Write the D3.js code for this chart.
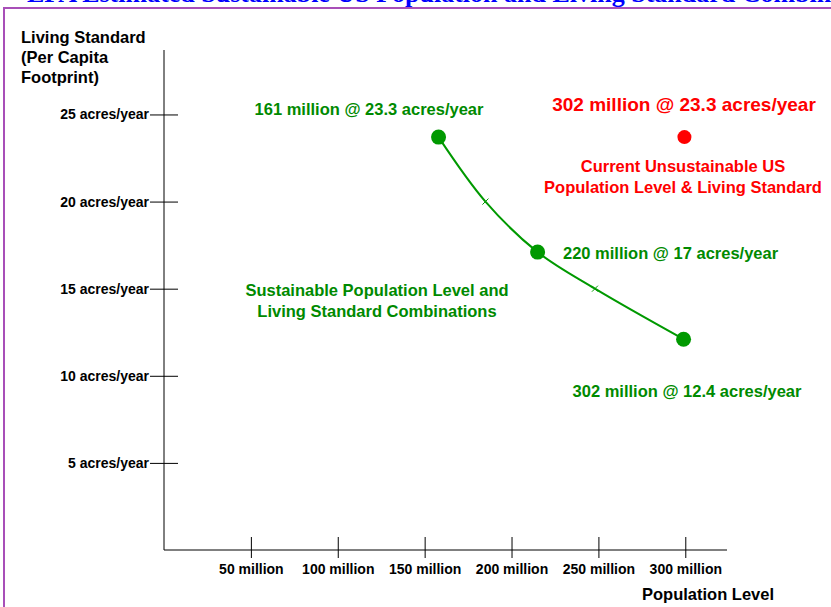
<!DOCTYPE html>
<html>
<head>
<meta charset="utf-8">
<script src="https://cdn.jsdelivr.net/npm/d3@7"></script>
<style>
  body { margin: 0; background: #fff; }
  text { font-family: "Liberation Sans", Arial, sans-serif; }
</style>
</head>
<body>
<svg></svg>
<script>
//chart size
const width = 831;
const height = 607;

//data (population in millions, living standard in acres/year)
const popLevels = [158, 185, 215, 248, 299];
const livingStd = [23.7, 20, 17.1, 15, 12.1];
const pointKind = ["dot", "cross", "dot", "cross", "dot"];
const currentPop = [299.5];
const currentStd = [23.7];

//tick labels
const xTicks = [50, 100, 150, 200, 250, 300];
const xTickLabels = ["50 million", "100 million", "150 million", "200 million", "250 million", "300 million"];
const yTicks = [5, 10, 15, 20, 25];
const yTickLabels = ["5 acres/year", "10 acres/year", "15 acres/year", "20 acres/year", "25 acres/year"];

const green = "#008a00";
const lineGreen = "#009900";
const red = "#ff0000";

const svg = d3.select("svg")
  .attr("width", width)
  .attr("height", height);

//scales
const x = d3.scaleLinear().domain([0, 324]).range([164, 727]);
const y = d3.scaleLinear().domain([0, 28.7]).range([550, 50]);

//title (cut off at the top of the page)
svg.append("text")
  .attr("x", 27)
  .attr("y", 2)
  .attr("fill", "#0000ff")
  .style("font-family", "'Liberation Serif', 'Times New Roman', serif")
  .style("font-weight", "bold")
  .style("font-size", "26px")
  .text("EPA Estimated Sustainable US Population and Living Standard Combinations");

//purple frame
svg.append("path")
  .attr("d", "M4,607 V8 H831")
  .attr("fill", "none")
  .attr("stroke", "#a84fb8")
  .attr("stroke-width", 2);

//x axis
const xAxis = svg.append("g")
  .attr("transform", `translate(0,${y(0)})`)
  .call(d3.axisBottom(x)
    .tickValues(xTicks)
    .tickFormat((d, i) => xTickLabels[i])
    .tickSizeOuter(0));
xAxis.select(".domain").remove();
xAxis.append("line")
  .attr("x1", x(0)).attr("x2", x(324))
  .attr("stroke", "#000");
xAxis.selectAll(".tick line").attr("y1", -13).attr("y2", 8).attr("stroke", "#000");
xAxis.selectAll(".tick text")
  .attr("y", 14)
  .attr("dy", "0.71em")
  .attr("fill", "#000")
  .style("font-size", "14px")
  .style("font-weight", "bold")
  .style("font-family", "'Liberation Sans', Arial, sans-serif");

//y axis
const yAxis = svg.append("g")
  .attr("transform", `translate(${x(0)},0)`)
  .call(d3.axisLeft(y)
    .tickValues(yTicks)
    .tickFormat((d, i) => yTickLabels[i])
    .tickSizeOuter(0));
yAxis.select(".domain").remove();
yAxis.append("line")
  .attr("y1", y(0)).attr("y2", y(28.7))
  .attr("stroke", "#000");
yAxis.selectAll(".tick line").attr("x1", -14).attr("x2", 14).attr("stroke", "#000");
yAxis.selectAll(".tick text")
  .attr("x", -15)
  .attr("fill", "#000")
  .style("font-size", "14px")
  .style("font-weight", "bold")
  .style("font-family", "'Liberation Sans', Arial, sans-serif");

//axis titles
const yTitle = svg.append("text")
  .attr("x", 21)
  .attr("y", 43)
  .style("font-size", "16.5px")
  .style("font-weight", "bold");
["Living Standard", "(Per Capita", "Footprint)"].forEach((t, i) => {
  yTitle.append("tspan").attr("x", 21).attr("dy", i === 0 ? 0 : 20).text(t);
});

svg.append("text")
  .attr("x", 642)
  .attr("y", 600)
  .style("font-size", "16.5px")
  .style("font-weight", "bold")
  .text("Population Level");

//sustainable combinations line
const pts = popLevels.map((p, i) => ({pop: p, std: livingStd[i], kind: pointKind[i]}));

const line = d3.line()
  .x(d => x(d.pop))
  .y(d => y(d.std))
  .curve(d3.curveCatmullRom.alpha(0.5));

svg.append("path")
  .datum(pts)
  .attr("d", line)
  .attr("fill", "none")
  .attr("stroke", lineGreen)
  .attr("stroke-width", 2);

//small cross markers
svg.selectAll("path.cross")
  .data(pts.filter(d => d.kind === "cross"))
  .enter().append("path")
  .attr("class", "cross")
  .attr("d", d => {
    const cx = x(d.pop), cy = y(d.std);
    return `M${cx - 3},${cy - 3}L${cx + 3},${cy + 3}M${cx - 3},${cy + 3}L${cx + 3},${cy - 3}`;
  })
  .attr("stroke", lineGreen)
  .attr("stroke-width", 1);

//big dots
svg.selectAll("circle.dot")
  .data(pts.filter(d => d.kind === "dot"))
  .enter().append("circle")
  .attr("class", "dot")
  .attr("cx", d => x(d.pop))
  .attr("cy", d => y(d.std))
  .attr("r", 7.5)
  .attr("fill", lineGreen);

//current unsustainable point
svg.selectAll("circle.current")
  .data(currentPop.map((p, i) => ({pop: p, std: currentStd[i]})))
  .enter().append("circle")
  .attr("class", "current")
  .attr("cx", d => x(d.pop))
  .attr("cy", d => y(d.std))
  .attr("r", 7)
  .attr("fill", red);

//annotations
function label(tx, ty, lines, color, size, anchor) {
  const t = svg.append("text")
    .attr("x", tx)
    .attr("y", ty)
    .attr("fill", color)
    .attr("text-anchor", anchor)
    .style("font-size", size)
    .style("font-weight", "bold");
  lines.forEach((s, i) => {
    t.append("tspan").attr("x", tx).attr("dy", i === 0 ? 0 : 21).text(s);
  });
}

label(369, 115, ["161 million @ 23.3 acres/year"], green, "16.5px", "middle");
label(684, 111, ["302 million @ 23.3 acres/year"], red, "19px", "middle");
label(683, 172, ["Current Unsustainable US", "Population Level & Living Standard"], red, "16.5px", "middle");
label(563, 259, ["220 million @ 17 acres/year"], green, "16.5px", "start");
label(377, 296, ["Sustainable Population Level and", "Living Standard Combinations"], green, "16.5px", "middle");
label(687, 397, ["302 million @ 12.4 acres/year"], green, "16.5px", "middle");
</script>
</body>
</html>
